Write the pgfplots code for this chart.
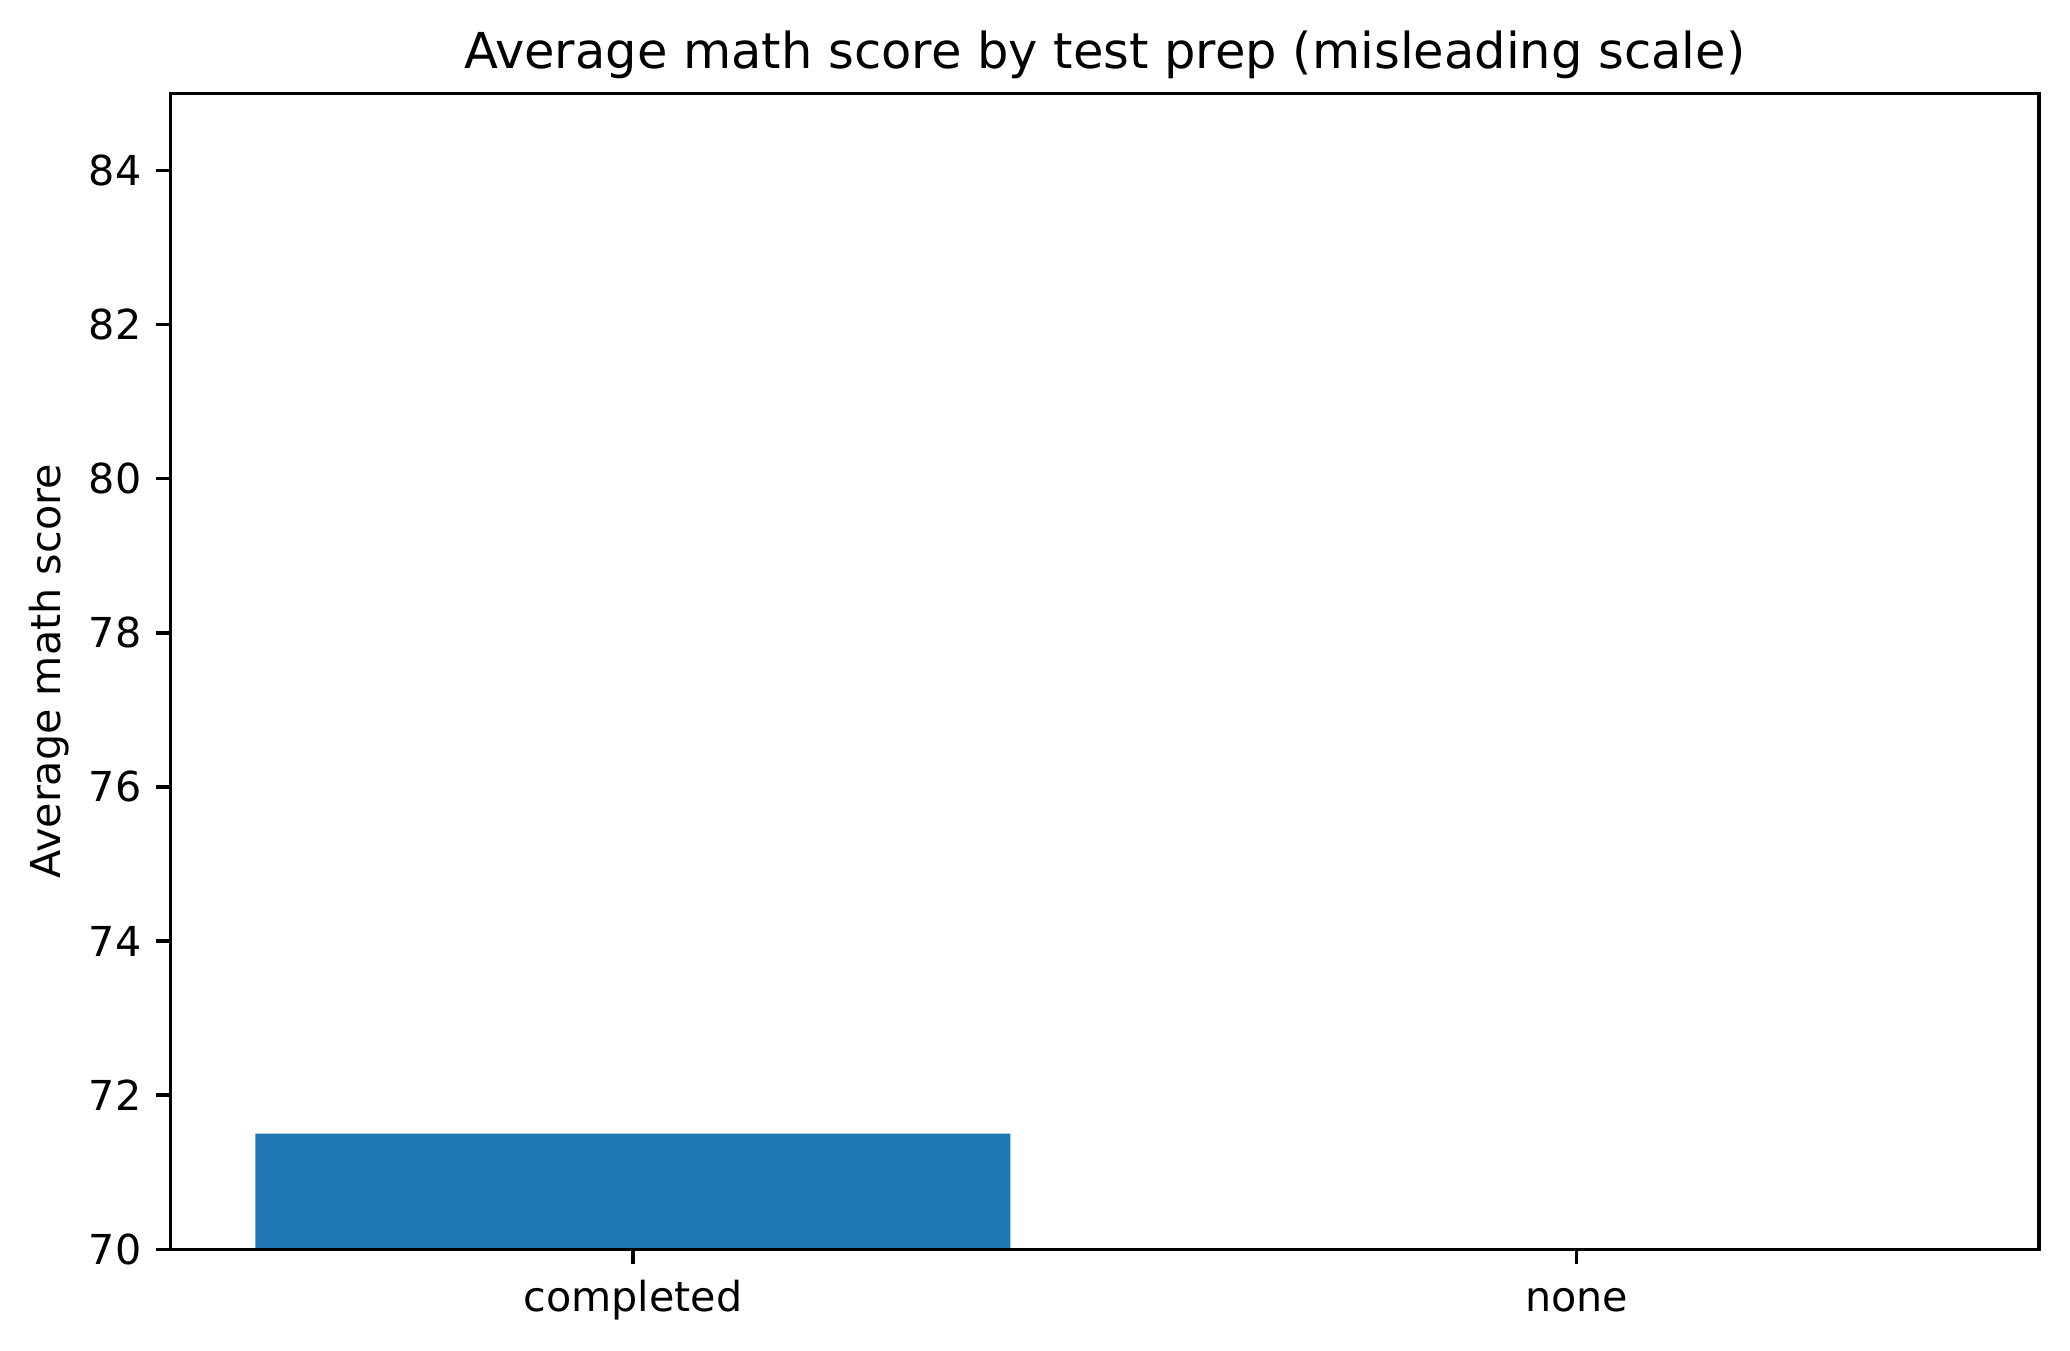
\documentclass[border=0pt]{standalone}
\usepackage{pgfplots}
\pgfplotsset{compat=1.18}
\usepackage{fontspec}
\setmainfont{DejaVu Sans}
\definecolor{mplblue}{HTML}{1F77B4}
\begin{document}
\begin{tikzpicture}
\useasboundingbox (0,0) rectangle (501.6pt,327.3pt);
\begin{axis}[
  at={(41.3pt,24.6pt)}, anchor=south west,
  scale only axis, width=452.8pt, height=280pt,
  xmin=-0.49, xmax=1.49, ymin=70, ymax=85,
  xtick={0,1}, xticklabels={completed,none},
  ytick={70,72,74,76,78,80,82,84},
  xtick pos=lower, ytick pos=left,
  tick align=outside, major tick length=3.5pt,
  axis on top=true,
  axis line style={line width=0.8pt},
  every tick/.style={line width=0.8pt, black},
  /pgf/number format/assume math mode=true,
  ticklabel style={font=\fontsize{10}{12}\selectfont},
  xticklabel style={text height=0.75em, text depth=0.25em, inner sep=2pt, yshift=-2pt},
  ylabel={Average math score},
  ylabel style={font=\fontsize{10}{12}\selectfont, at={([xshift=-29.5pt]axis description cs:0,0.5)}, anchor=center},
  title={Average math score by test prep (misleading scale)},
  title style={font=\fontsize{12}{14.4}\selectfont, at={(0.5,1)}, anchor=base},
  ybar, bar width=0.8,
]
\addplot[fill=mplblue, draw=none] coordinates {(0,71.5) (1,64.1)};
\end{axis}
\end{tikzpicture}
\end{document}
